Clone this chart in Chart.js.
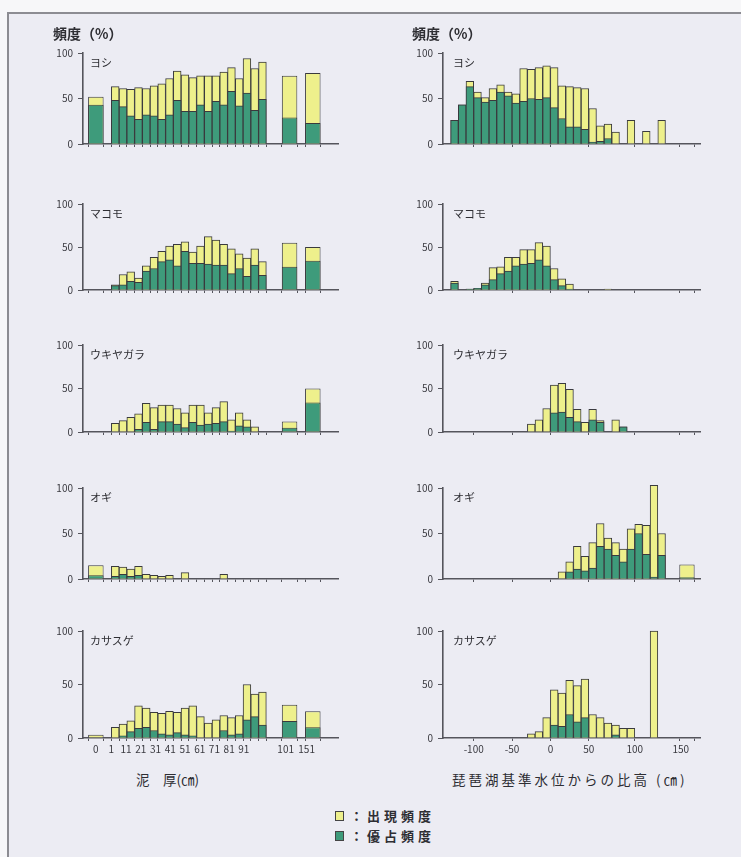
<!DOCTYPE html>
<html><head><meta charset="utf-8">
<script src="https://cdn.jsdelivr.net/npm/chart.js@4/dist/chart.umd.min.js"></script>
<style>
html,body{margin:0;padding:0}
body{width:741px;height:857px;background:#f7f7f9;position:relative;overflow:hidden;font-family:"Noto Sans CJK JP","Noto Sans",sans-serif;color:#2e2e33}
#frame{position:absolute;left:7px;top:12px;width:740px;height:860px;border:2px solid #8c8c92;background:#ececf3;box-sizing:border-box}
canvas{position:absolute}
.t{position:absolute;white-space:nowrap;line-height:1}
.title{font-size:14px;font-weight:bold}
.sp{font-size:11px}
.ax{font-size:13.5px}
.lg{font-size:13px;letter-spacing:4px;font-weight:bold}
.box{position:absolute;width:7px;height:8px;border:1px solid #444}
</style></head><body>
<div id="frame"></div>
<script>
// ===== DATA =====
// Left column: mud thickness bins (cm), lower bound of each bin
const thickBins = ["0","1","6","11","16","21","26","31","36","41","46","51","56","61","66","71","76","81","86","91","96","101","151"];
const thickTickLabels = ["0","1","11","21","31","41","51","61","71","81","91","101","151"];
// Right column: elevation above Lake Biwa reference level (cm), 10-cm bins + last open bin
const elevBins = ["-130","-120","-110","-100","-90","-80","-70","-60","-50","-40","-30","-20","-10","0","10","20","30","40","50","60","70","80","90","100","110","120","130","140","150","160+"];
const elevTickLabels = ["-100","-50","0","50","100","150"];
const elevTickValues = [-100,-50,0,50,100,150];

const species = ["ヨシ","マコモ","ウキヤガラ","オギ","カサスゲ"];

// appearance frequency (出現頻度) and dominance frequency (優占頻度), %
const yoshiThickAppear   = [52, 63,61,60,62,61,64,66,72,80,76,73,75,75,75,79,84,72,94,83,90, 75,78];
const yoshiThickDominant = [43, 48,41,31,27,32,31,27,32,48,36,36,43,36,47,43,58,42,56,37,49, 29,23];
const makomoThickAppear   = [0, 6,18,21,14,28,38,45,51,53,56,44,51,62,58,53,48,42,37,48,33, 55,50];
const makomoThickDominant = [0, 5,6,10,9,22,25,33,35,28,45,31,31,30,29,29,19,25,16,29,17, 27,34];
const ukiThickAppear   = [0, 10,13,17,21,33,28,31,31,27,22,31,31,22,28,35,14,22,14,6,0, 12,50];
const ukiThickDominant = [0, 0,0,0,3,11,3,12,12,9,5,11,8,9,10,12,1,7,6,0,0, 5,34];
const ogiThickAppear   = [15, 14,13,11,14,5,4,3,4,0,7,0,0,0,0,5,0,0,0,0,0, 0,0];
const ogiThickDominant = [4, 3,5,3,4,0,0,0,0,0,0,0,0,0,0,0,0,0,0,0,0, 0,0];
const kasaThickAppear   = [3, 10,13,16,30,28,24,23,25,24,28,30,20,14,17,21,19,21,50,41,43, 31,25];
const kasaThickDominant = [0, 0,2,6,9,10,7,4,3,5,3,2,0,0,0,7,3,4,17,20,12, 16,10];

const yoshiElevAppear   = [26,43,69,57,51,61,65,57,55,83,82,84,86,84,64,63,62,61,39,20,22,13,0,26,0,14,0,26,0, 0];
const yoshiElevDominant = [26,43,63,51,46,48,57,53,45,47,50,49,51,40,28,19,19,16,2,3,6,0,0,0,0,0,0,0,0, 0];
const makomoElevAppear   = [10,0,1,2,8,26,27,38,38,47,47,55,51,25,13,7,0,0,0,0,1,0,0,0,0,0,0,0,0, 0];
const makomoElevDominant = [8,0,1,2,6,12,19,22,28,30,31,35,28,12,5,1,0,0,0,0,0,0,0,0,0,0,0,0,0, 0];
const ukiElevAppear   = [0,0,0,0,0,0,0,0,0,0,9,14,27,54,56,49,26,11,26,13,0,14,6,0,0,0,0,0,0, 0];
const ukiElevDominant = [0,0,0,0,0,0,0,0,0,0,0,0,0,22,23,17,12,0,14,11,0,0,6,0,0,0,0,0,0, 0];
const ogiElevAppear   = [0,0,0,0,0,0,0,0,0,0,0,0,0,0,8,19,36,25,40,61,45,40,33,55,60,59,103,50,0, 16];
const ogiElevDominant = [0,0,0,0,0,0,0,0,0,0,0,0,0,0,0,8,11,9,12,36,33,26,19,33,50,27,2,26,0, 2];
const kasaElevAppear   = [0,0,0,0,0,0,0,0,0,0,4,6,19,45,42,54,49,55,22,19,14,12,9,9,0,0,100,0,0, 0];
const kasaElevDominant = [0,0,0,0,0,0,0,0,0,0,0,0,0,12,11,22,15,19,0,0,0,3,0,0,0,0,0,0,0, 0];

// ===== STYLE / LAYOUT =====
const F = '"Noto Sans CJK JP","Noto Sans",sans-serif';
const YELLOW = '#eef08c', GREEN = '#3e9b7b', EDGE = '#3a3a3e', AX = '#55555c', TC = '#3a3a40';
const rows = [{y100:53,y0:160},{y100:204,y0:306},{y100:345,y0:448},{y100:488,y0:595},{y100:631,y0:738}];
const cols = [{x0:83,x1:338},{x0:443,x1:700}];
const YW=30, PT=12, PB=8, PR=8, XH=4, LH=16;

// axis geometry in "bin slot" units
const left = {
  min:-3.66, max:29.25,
  pos: i => i===0 ? -2 : (i<=20 ? i-0.5 : (i===21 ? 23 : 26)),
  wide: i => i===0 || i>20,
  marks: [-3,-1,...Array.from({length:21},(_, k)=>k),22,24,25,27],
  tickPos: j => j===0 ? -2 : (j<=10 ? (j-1)*1.9 : (j===11 ? 22.5 : 25.2)),
  tickLabels: thickTickLabels
};
const elevToSlot = v => v<=50 ? 13+v/10 : 18+(v-50)*0.12;
const right = {
  min:-1, max:32.5,
  pos: i => i<elevBins.length-1 ? i+0.5 : 30.8,
  wide: i => i===elevBins.length-1,
  marks: [...elevTickValues.slice(0,5).map(elevToSlot), 29.8, 31.8],
  tickPos: j => elevToSlot(elevTickValues[j]),
  tickLabels: elevTickLabels
};

const panels = [
  [yoshiThickAppear,yoshiThickDominant, yoshiElevAppear,yoshiElevDominant],
  [makomoThickAppear,makomoThickDominant, makomoElevAppear,makomoElevDominant],
  [ukiThickAppear,ukiThickDominant, ukiElevAppear,ukiElevDominant],
  [ogiThickAppear,ogiThickDominant, ogiElevAppear,ogiElevDominant],
  [kasaThickAppear,kasaThickDominant, kasaElevAppear,kasaElevDominant]
];

function ds(values, ax, wide, color, order){
  const pts = values.map((v,i)=> (ax.wide(i)===wide) ? {x:ax.pos(i), y:(v>0?v:null)} : null).filter(p=>p);
  return {data:pts, backgroundColor:color, borderColor:EDGE, borderWidth:1, grouped:false,
    barPercentage: wide?2:1, categoryPercentage:1, order, xAxisID:'x', yAxisID:'y', clip:false};
}

function panel(col,row,appear,dominant){
  const ax = col===0 ? left : right;
  const c = cols[col], r = rows[row], bottom = row===4;
  const W = YW + (c.x1-c.x0) + PR;
  const H = PT + (r.y0-r.y100) + XH + (bottom?LH:0) + PB;
  const cv = document.createElement('canvas');
  cv.width=W; cv.height=H;
  cv.style.left=(c.x0-YW)+'px'; cv.style.top=(r.y100-PT)+'px';
  cv.style.width=W+'px'; cv.style.height=H+'px';
  document.body.appendChild(cv);
  new Chart(cv,{
    type:'bar',
    data:{datasets:[
      ds(dominant,ax,false,GREEN,0), ds(dominant,ax,true,GREEN,0),
      ds(appear,ax,false,YELLOW,1), ds(appear,ax,true,YELLOW,1)
    ]},
    options:{
      responsive:false, animation:false, devicePixelRatio:1, events:[],
      layout:{padding:{top:PT,right:PR,bottom:PB,left:0}},
      plugins:{legend:{display:false},tooltip:{enabled:false}},
      scales:{
        x:{type:'linear',position:'bottom',weight:0,min:ax.min,max:ax.max,offset:false,
          afterBuildTicks:s=>{s.ticks=ax.marks.map(v=>({value:v}));},
          ticks:{display:false},
          grid:{offset:false,drawOnChartArea:false,drawTicks:true,tickLength:3,color:AX,lineWidth:1},
          border:{display:true,color:AX,width:1.6},
          afterFit:s=>{s.height=XH;}},
        xl:{type:'linear',position:'bottom',weight:1,min:ax.min,max:ax.max,offset:false,display:bottom,
          afterBuildTicks:s=>{s.ticks=ax.tickLabels.map((t,j)=>({value:ax.tickPos(j)}));},
          ticks:{autoSkip:false,maxRotation:0,minRotation:0,padding:1,color:TC,
            font:{family:F,size:10},callback:(v,i)=>ax.tickLabels[i]},
          grid:{offset:false,display:false,drawTicks:false},border:{display:false},
          afterFit:s=>{s.height=LH;}},
        y:{min:0,max:100,
          afterBuildTicks:s=>{s.ticks=[0,50,100].map(v=>({value:v}));},
          ticks:{padding:5,color:TC,font:{family:F,size:10}},
          grid:{drawOnChartArea:false,drawTicks:true,tickLength:5,color:AX,lineWidth:1},
          border:{display:true,color:AX,width:1.6},
          afterFit:s=>{s.width=YW;}}
      }
    }
  });
}

function text(str,x,y,cls){
  const d=document.createElement('div'); d.className='t '+cls; d.textContent=str;
  d.style.left=x+'px'; d.style.top=y+'px'; document.body.appendChild(d); return d;
}

panels.forEach((p,row)=>{
  panel(0,row,p[0],p[1]);
  panel(1,row,p[2],p[3]);
  text(species[row], 90, rows[row].y100+4, 'sp');
  text(species[row], 453, rows[row].y100+4, 'sp');
});
text('頻度（%）',53,26,'title');
text('頻度（%）',412,26,'title');
text('泥　厚(㎝)',136,773,'ax');
const rt = text('琵琶湖基準水位からの比高 (㎝)',452,773,'ax'); rt.style.letterSpacing='3px';
// legend
const b1=document.createElement('div'); b1.className='box'; b1.style.cssText+='left:335px;top:811px;background:'+YELLOW; document.body.appendChild(b1);
const b2=document.createElement('div'); b2.className='box'; b2.style.cssText+='left:335px;top:831px;background:'+GREEN; document.body.appendChild(b2);
text('：出現頻度',350,809,'lg');
text('：優占頻度',350,829,'lg');
</script>
</body></html>
